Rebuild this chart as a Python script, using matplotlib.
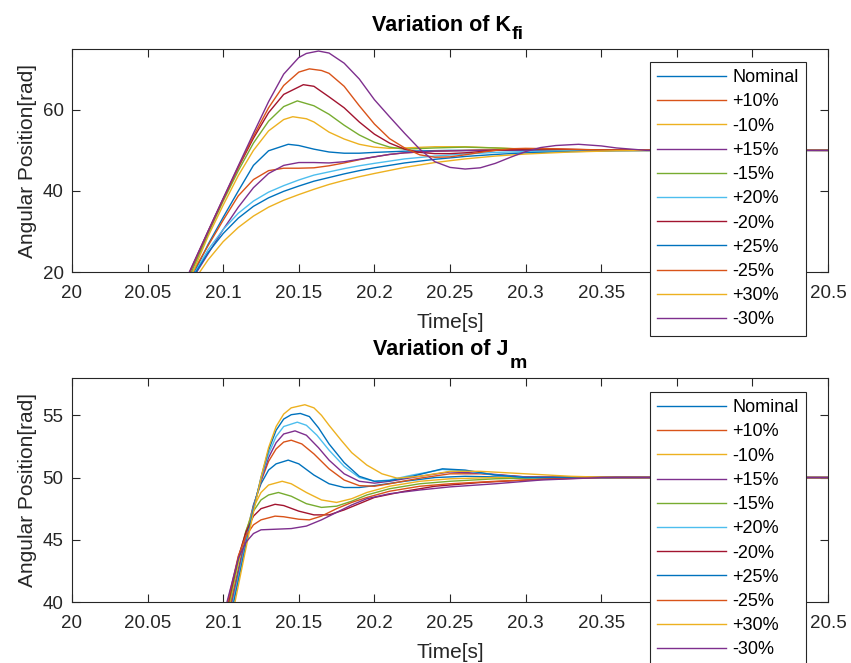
import matplotlib
matplotlib.use("Agg")
import matplotlib.pyplot as plt
from matplotlib.transforms import offset_copy

plt.rcParams['font.family'] = ['Liberation Sans', 'DejaVu Sans']

# legend labels and MATLAB default line colours
labels = ["Nominal", "+10%", "-10%", "+15%", "-15%", "+20%", "-20%", "+25%", "-25%", "+30%", "-30%"]
colors = ['#0072BD', '#D95319', '#EDB120', '#7E2F8E', '#77AC30', '#4DBEEE', '#A2142F',
          '#0072BD', '#D95319', '#EDB120', '#7E2F8E']

xticks = [20, 20.05, 20.1, 20.15, 20.2, 20.25, 20.3, 20.35, 20.4, 20.45, 20.5]
xticklabels = ["20", "20.05", "20.1", "20.15", "20.2", "20.25", "20.3", "20.35", "20.4", "20.45", "20.5"]

# ---- variation of K_fi ----
t_kfi_nom = [20.081, 20.09, 20.10, 20.11, 20.12, 20.13, 20.143, 20.15, 20.16, 20.17, 20.18, 20.19, 20.20, 20.22, 20.25, 20.30, 20.50]
y_kfi_nom = [20, 26.8, 33.5, 40.0, 46.3, 49.9, 51.5, 51.2, 50.3, 49.6, 49.3, 49.3, 49.5, 49.8, 50.0, 50.0, 50.0]

t_kfi_p10 = [20.080, 20.09, 20.10, 20.11, 20.12, 20.13, 20.14, 20.15, 20.16, 20.17, 20.18, 20.19, 20.20, 20.21, 20.22, 20.24, 20.27, 20.30, 20.35, 20.50]
y_kfi_p10 = [20, 26.5, 32.8, 38.8, 42.8, 45.0, 45.6, 45.6, 45.7, 46.2, 46.9, 47.7, 48.4, 49.0, 49.4, 49.8, 50.1, 50.2, 50.1, 50.0]

t_kfi_m10 = [20.080, 20.09, 20.10, 20.11, 20.12, 20.13, 20.14, 20.146, 20.155, 20.16, 20.17, 20.18, 20.19, 20.20, 20.21, 20.22, 20.24, 20.26, 20.28, 20.30, 20.33, 20.50]
y_kfi_m10 = [20, 28.8, 36.5, 43.8, 50.0, 54.8, 57.6, 58.3, 57.8, 57.0, 54.5, 52.8, 51.5, 50.8, 50.5, 50.6, 50.9, 50.9, 50.6, 50.3, 50.1, 50.0]

t_kfi_p15 = [20.0825, 20.09, 20.10, 20.11, 20.12, 20.13, 20.14, 20.15, 20.16, 20.17, 20.18, 20.19, 20.20, 20.21, 20.22, 20.24, 20.27, 20.30, 20.50]
y_kfi_p15 = [20, 24.5, 30.5, 36.0, 40.8, 44.3, 46.3, 47.0, 47.0, 46.9, 47.2, 47.8, 48.4, 49.0, 49.4, 49.8, 50.0, 50.1, 50.0]

t_kfi_m15 = [20.079, 20.09, 20.10, 20.11, 20.12, 20.13, 20.14, 20.149, 20.16, 20.17, 20.18, 20.19, 20.20, 20.21, 20.22, 20.24, 20.26, 20.28, 20.30, 20.33, 20.50]
y_kfi_m15 = [20, 29.5, 37.5, 45.0, 51.8, 57.2, 60.8, 62.2, 61.0, 58.9, 56.2, 53.8, 52.0, 50.8, 50.3, 50.6, 50.8, 50.6, 50.3, 50.1, 50.0]

t_kfi_p20 = [20.0815, 20.09, 20.10, 20.11, 20.12, 20.13, 20.14, 20.15, 20.16, 20.17, 20.18, 20.19, 20.20, 20.22, 20.24, 20.26, 20.28, 20.30, 20.33, 20.36, 20.50]
y_kfi_p20 = [20, 25.5, 30.5, 34.5, 37.5, 39.7, 41.3, 42.7, 43.9, 44.7, 45.5, 46.2, 46.8, 47.9, 48.6, 49.1, 49.5, 49.7, 49.9, 50.0, 50.0]

t_kfi_m20 = [20.078, 20.09, 20.10, 20.11, 20.12, 20.13, 20.14, 20.153, 20.16, 20.17, 20.18, 20.19, 20.20, 20.21, 20.22, 20.23, 20.24, 20.25, 20.26, 20.27, 20.28, 20.30, 20.32, 20.35, 20.50]
y_kfi_m20 = [20, 30.0, 38.0, 45.8, 53.0, 59.3, 63.8, 66.2, 65.8, 63.2, 60.5, 57.0, 54.0, 51.8, 50.3, 49.5, 49.2, 49.2, 49.4, 49.7, 50.0, 50.3, 50.3, 50.1, 50.0]

t_kfi_p25 = [20.082, 20.09, 20.10, 20.11, 20.12, 20.13, 20.14, 20.15, 20.16, 20.17, 20.18, 20.19, 20.20, 20.22, 20.24, 20.26, 20.28, 20.30, 20.33, 20.36, 20.40, 20.50]
y_kfi_p25 = [20, 24.8, 29.5, 33.3, 36.2, 38.3, 39.9, 41.2, 42.4, 43.3, 44.2, 45.0, 45.7, 46.9, 47.8, 48.5, 49.0, 49.4, 49.7, 49.9, 50.0, 50.0]

t_kfi_m25 = [20.0778, 20.09, 20.10, 20.11, 20.12, 20.13, 20.14, 20.15, 20.157, 20.165, 20.17, 20.18, 20.19, 20.20, 20.21, 20.22, 20.23, 20.24, 20.25, 20.26, 20.27, 20.28, 20.29, 20.30, 20.32, 20.35, 20.50]
y_kfi_m25 = [20, 30.0, 38.0, 46.0, 53.5, 60.5, 66.0, 69.3, 70.1, 69.7, 69.0, 65.8, 61.0, 56.5, 52.9, 50.6, 48.9, 48.3, 48.4, 48.9, 49.5, 50.0, 50.4, 50.5, 50.4, 50.1, 50.0]

t_kfi_p30 = [20.0845, 20.09, 20.10, 20.11, 20.12, 20.13, 20.14, 20.15, 20.16, 20.17, 20.18, 20.19, 20.20, 20.22, 20.24, 20.26, 20.28, 20.30, 20.33, 20.36, 20.40, 20.50]
y_kfi_p30 = [20, 23.0, 27.5, 31.0, 33.8, 36.0, 37.7, 39.1, 40.4, 41.6, 42.6, 43.5, 44.3, 45.8, 47.0, 47.9, 48.6, 49.1, 49.6, 49.9, 50.0, 50.0]

t_kfi_m30 = [20.0776, 20.09, 20.10, 20.11, 20.12, 20.13, 20.14, 20.15, 20.155, 20.163, 20.17, 20.18, 20.19, 20.20, 20.21, 20.22, 20.23, 20.24, 20.25, 20.26, 20.27, 20.28, 20.29, 20.30, 20.31, 20.32, 20.335, 20.35, 20.36, 20.38, 20.50]
y_kfi_m30 = [20, 30.1, 38.2, 46.2, 54.2, 62.0, 68.8, 72.9, 73.9, 74.5, 74.0, 71.5, 67.6, 62.5, 58.3, 54.2, 50.3, 47.2, 45.8, 45.4, 45.7, 46.8, 48.3, 49.7, 50.7, 51.2, 51.5, 51.1, 50.6, 50.0, 50.0]

# ---- variation of J_m ----
t_jm_nom = [20.105, 20.115, 20.12, 20.125, 20.13, 20.135, 20.143, 20.15, 20.16, 20.17, 20.18, 20.19, 20.20, 20.22, 20.24, 20.26, 20.30, 20.50]
y_jm_nom = [40, 45.3, 47.8, 49.5, 50.6, 51.1, 51.4, 51.1, 50.2, 49.5, 49.2, 49.2, 49.35, 49.7, 50.0, 50.1, 50.0, 50.0]

t_jm_p10 = [20.1055, 20.115, 20.12, 20.125, 20.13, 20.135, 20.14, 20.145, 20.152, 20.16, 20.17, 20.18, 20.19, 20.20, 20.21, 20.23, 20.25, 20.27, 20.30, 20.50]
y_jm_p10 = [40, 45.1, 47.7, 49.7, 51.3, 52.3, 52.85, 53.0, 52.7, 51.9, 50.7, 49.8, 49.35, 49.3, 49.5, 49.95, 50.3, 50.3, 50.05, 50.0]

t_jm_m10 = [20.1045, 20.11, 20.115, 20.12, 20.125, 20.13, 20.139, 20.145, 20.155, 20.165, 20.175, 20.185, 20.195, 20.21, 20.23, 20.25, 20.28, 20.50]
y_jm_m10 = [40, 43.1, 45.6, 47.6, 48.8, 49.4, 49.7, 49.5, 48.8, 48.2, 48.0, 48.3, 48.8, 49.3, 49.7, 49.9, 50.0, 50.0]

t_jm_p15 = [20.106, 20.115, 20.12, 20.125, 20.13, 20.135, 20.14, 20.1475, 20.155, 20.163, 20.17, 20.18, 20.19, 20.20, 20.21, 20.23, 20.25, 20.27, 20.30, 20.50]
y_jm_p15 = [40, 45.0, 47.6, 49.8, 51.6, 52.8, 53.5, 53.75, 53.4, 52.4, 51.4, 50.3, 49.7, 49.55, 49.7, 50.1, 50.45, 50.35, 50.05, 50.0]

t_jm_m15 = [20.104, 20.11, 20.115, 20.12, 20.125, 20.13, 20.1365, 20.145, 20.155, 20.165, 20.175, 20.185, 20.195, 20.21, 20.23, 20.25, 20.28, 20.32, 20.50]
y_jm_m15 = [40, 43.4, 45.7, 47.3, 48.2, 48.6, 48.8, 48.5, 47.9, 47.6, 47.7, 48.1, 48.6, 49.1, 49.5, 49.7, 49.9, 50.0, 50.0]

t_jm_p20 = [20.1065, 20.115, 20.12, 20.125, 20.13, 20.135, 20.14, 20.149, 20.155, 20.162, 20.17, 20.18, 20.19, 20.20, 20.21, 20.225, 20.245, 20.26, 20.28, 20.30, 20.50]
y_jm_p20 = [40, 44.8, 47.5, 49.9, 51.9, 53.3, 54.1, 54.45, 54.2, 53.4, 52.2, 50.9, 50.0, 49.7, 49.8, 50.2, 50.65, 50.55, 50.2, 50.0, 50.0]

t_jm_m20 = [20.1035, 20.11, 20.115, 20.12, 20.125, 20.1343, 20.14, 20.15, 20.16, 20.17, 20.18, 20.19, 20.20, 20.22, 20.24, 20.27, 20.30, 20.34, 20.50]
y_jm_m20 = [40, 43.6, 45.6, 46.9, 47.5, 47.85, 47.75, 47.3, 47.0, 47.0, 47.4, 47.9, 48.4, 48.9, 49.3, 49.6, 49.8, 50.0, 50.0]

t_jm_p25 = [20.107, 20.115, 20.12, 20.125, 20.13, 20.135, 20.14, 20.145, 20.151, 20.157, 20.163, 20.17, 20.18, 20.19, 20.20, 20.21, 20.225, 20.245, 20.26, 20.28, 20.30, 20.50]
y_jm_p25 = [40, 44.6, 47.4, 50.0, 52.2, 53.8, 54.7, 55.05, 55.15, 54.9, 54.0, 52.7, 51.2, 50.1, 49.7, 49.75, 50.1, 50.7, 50.6, 50.2, 50.0, 50.0]

t_jm_m25 = [20.103, 20.11, 20.115, 20.12, 20.125, 20.1343, 20.14, 20.15, 20.157, 20.165, 20.175, 20.185, 20.195, 20.21, 20.23, 20.25, 20.28, 20.31, 20.35, 20.50]
y_jm_m25 = [40, 43.7, 45.3, 46.2, 46.6, 46.9, 46.85, 46.65, 46.6, 46.9, 47.5, 48.0, 48.4, 48.9, 49.3, 49.5, 49.7, 49.85, 50.0, 50.0]

t_jm_p30 = [20.1078, 20.115, 20.12, 20.125, 20.13, 20.135, 20.14, 20.145, 20.154, 20.16, 20.165, 20.17, 20.178, 20.185, 20.195, 20.205, 20.215, 20.23, 20.25, 20.27, 20.30, 20.33, 20.36, 20.50]
y_jm_p30 = [40, 44.3, 47.2, 50.0, 52.4, 54.1, 55.1, 55.6, 55.85, 55.6, 55.0, 54.2, 53.0, 52.0, 51.0, 50.3, 49.95, 50.1, 50.5, 50.5, 50.3, 50.1, 50.0, 50.0]

t_jm_m30 = [20.1025, 20.11, 20.115, 20.12, 20.125, 20.135, 20.145, 20.155, 20.165, 20.175, 20.185, 20.195, 20.21, 20.23, 20.25, 20.28, 20.31, 20.35, 20.50]
y_jm_m30 = [40, 43.5, 44.8, 45.5, 45.8, 45.85, 45.9, 46.1, 46.6, 47.2, 47.8, 48.3, 48.7, 49.0, 49.25, 49.5, 49.8, 50.0, 50.0]

kfi_series = [(t_kfi_nom, y_kfi_nom), (t_kfi_p10, y_kfi_p10), (t_kfi_m10, y_kfi_m10),
              (t_kfi_p15, y_kfi_p15), (t_kfi_m15, y_kfi_m15), (t_kfi_p20, y_kfi_p20),
              (t_kfi_m20, y_kfi_m20), (t_kfi_p25, y_kfi_p25), (t_kfi_m25, y_kfi_m25),
              (t_kfi_p30, y_kfi_p30), (t_kfi_m30, y_kfi_m30)]
jm_series = [(t_jm_nom, y_jm_nom), (t_jm_p10, y_jm_p10), (t_jm_m10, y_jm_m10),
             (t_jm_p15, y_jm_p15), (t_jm_m15, y_jm_m15), (t_jm_p20, y_jm_p20),
             (t_jm_m20, y_jm_m20), (t_jm_p25, y_jm_p25), (t_jm_m25, y_jm_m25),
             (t_jm_p30, y_jm_p30), (t_jm_m30, y_jm_m30)]

kfi_yticks = [20, 40, 60]
jm_yticks = [40, 45, 50, 55]

fig = plt.figure(figsize=(8.51, 6.63), dpi=100)
ax1 = fig.add_axes([0.0846, 0.5897, 0.8884, 0.3364])
ax2 = fig.add_axes([0.0846, 0.0920, 0.8884, 0.3379])

dark = '#262626'


def draw(ax, series, yticks, ylim, title, sub, legend_top, title_up, sub_down):
    for (t, y), c, lab in zip(series, colors, labels):
        ax.plot(t, y, color=c, lw=1.0, label=lab, solid_joinstyle='round')
    ax.set_xlim(20, 20.5)
    ax.set_ylim(*ylim)
    ax.set_xticks(xticks)
    ax.set_xticklabels(xticklabels)
    ax.set_yticks(yticks)
    ax.tick_params(direction='in', length=6, width=0.8, colors=dark, labelsize=13.5,
                   top=True, right=True)
    ax.tick_params(axis='x', pad=9)
    ax.tick_params(axis='y', pad=6)
    for s in ax.spines.values():
        s.set_color(dark)
        s.set_linewidth(0.8)
    ax.set_xlabel("Time[s]", fontsize=15, color=dark, labelpad=8)
    ax.set_ylabel("Angular Position[rad]", fontsize=15, color=dark, labelpad=4)

    # title with a large MATLAB-like subscript
    tr = offset_copy(ax.transAxes, fig=fig, x=-9, y=title_up, units='dots')
    main = ax.text(0.5, 1.0, title, transform=tr, ha='center', va='baseline',
                   fontsize=15.5, fontweight='bold', color='black')
    ax.annotate(sub, xy=(1, 0), xycoords=main, xytext=(1, -sub_down),
                textcoords='offset points', ha='left', va='baseline',
                fontsize=14, fontweight='bold', color='black')

    leg = ax.legend(loc='upper left', bbox_to_anchor=(0.7638, legend_top),
                    bbox_transform=fig.transFigure, fontsize=13, frameon=True,
                    fancybox=False, framealpha=1, edgecolor=dark, handlelength=3.8,
                    handletextpad=0.35, labelspacing=0.4, borderpad=0.4,
                    borderaxespad=0)
    leg.get_frame().set_linewidth(0.8)
    leg.set_zorder(10)


draw(ax1, kfi_series, kfi_yticks, (20, 75), "Variation of K", "fi", 0.9065, 18, 2)
draw(ax2, jm_series, jm_yticks, (40, 58), "Variation of J", "m", 0.4087, 23, 6)

fig.savefig("out.png", dpi=100)
